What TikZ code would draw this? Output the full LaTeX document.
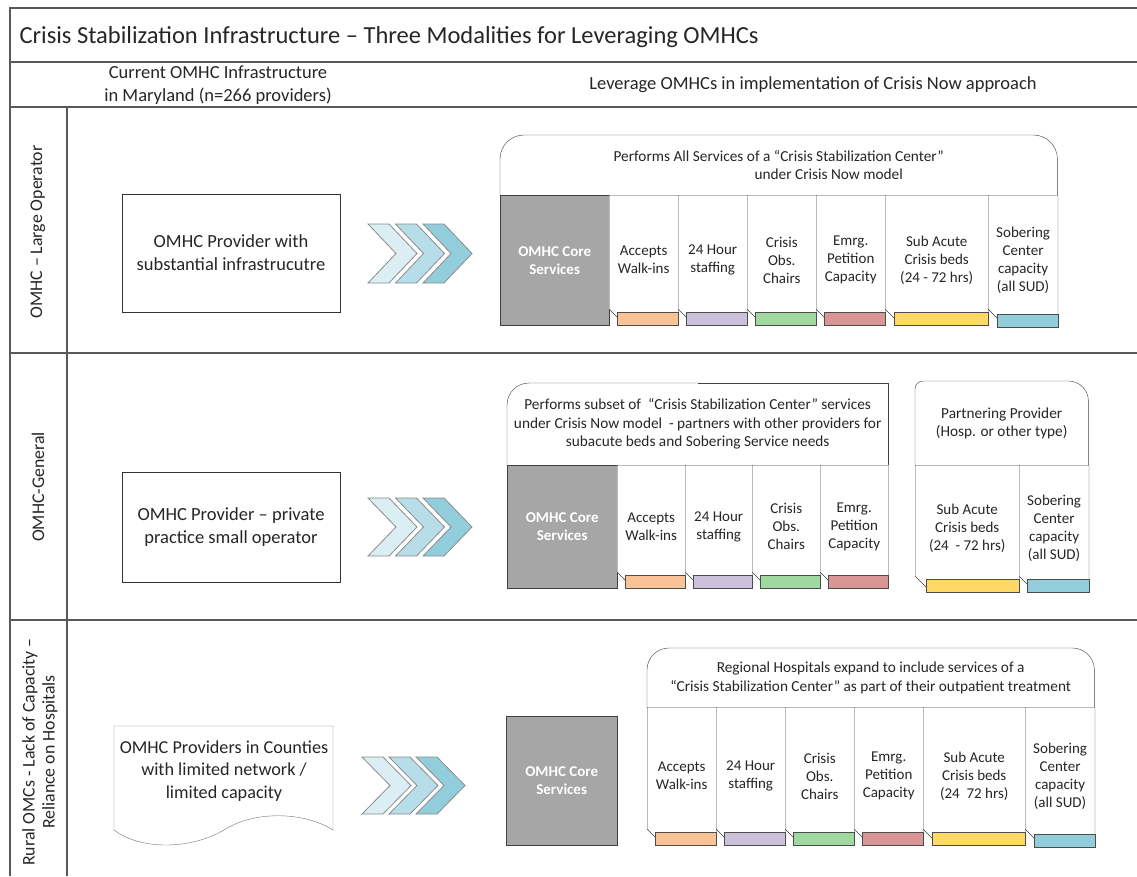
\documentclass[tikz,border=0pt]{standalone}
\usepackage{fontspec}
\setmainfont{Carlito}
\usetikzlibrary{shapes.misc}

\definecolor{rule}{HTML}{595959}
\definecolor{coregray}{HTML}{A6A6A6}
\definecolor{chevA}{HTML}{DAEEF3}
\definecolor{chevB}{HTML}{B7DEE8}
\definecolor{chevC}{HTML}{92CDDC}
\definecolor{tabO}{HTML}{FAC396}
\definecolor{tabP}{HTML}{CCC1DA}
\definecolor{tabG}{HTML}{A0D9A0}
\definecolor{tabR}{HTML}{D99694}
\definecolor{tabY}{HTML}{FFD966}
\definecolor{tabB}{HTML}{92CDDC}

\begin{document}
\begin{tikzpicture}[x=1pt, y=-1pt, every node/.style={text=black!85},
    cell/.style={draw=black!75, fill=white, chamfered rectangle, chamfered rectangle corners=south west, chamfered rectangle sep=8pt, inner sep=0pt, minimum width=69pt, anchor=north west, align=center, font=\fontsize{15}{18}\selectfont},
    core/.style={draw=black!75, fill=coregray, inner sep=0pt, anchor=north west, align=center, text=white, font=\fontsize{15}{18}\selectfont\bfseries},
    tab/.style={draw=black!70, inner sep=0pt, minimum height=13pt, minimum width=61pt, anchor=south east},
    hdr/.style={inner sep=0pt, anchor=north west, align=center, font=\fontsize{15.3}{18.5}\selectfont},
    box/.style={draw=black!75},
    prov/.style={draw=black!80, inner sep=0pt, align=center, font=\fontsize{18.5}{23}\selectfont},
    lane/.style={rotate=90, align=center, font=\fontsize{17.8}{20}\selectfont},
    rule/.style={draw=rule, line width=1.2pt},
    chev/.style={draw=black!45, line width=0.8pt},
    ]
  \useasboundingbox (0,0) rectangle (1137,876);
  \fill[white] (0,0) rectangle (1137,876);

  % frame
  \draw[rule] (10,876) -- (10,8) -- (1137,8);
  \draw[rule] (10,62) -- (1137,62);
  \draw[rule] (10,107) -- (1137,107);
  \draw[rule] (67,107) -- (67,876);
  \draw[rule] (10,353) -- (1137,353);
  \draw[rule] (10,620) -- (1137,620);

  \node[anchor=base west, font=\fontsize{24.5}{28}\selectfont] (title) at (16,43) {Crisis Stabilization Infrastructure – Three Modalities for Leveraging OMHCs};
  \node[align=center, font=\fontsize{18.5}{23}\selectfont] (current) at (218,85) {Current OMHC Infrastructure\\in Maryland (n=266 providers)};
  \node[font=\fontsize{18.5}{22}\selectfont] (leverage) at (813,85) {Leverage OMHCs in implementation of Crisis Now approach};

  \node[lane] (lane1) at (38,232) {OMHC – Large Operator};
  \node[lane] (lane2) at (38,487) {OMHC-General};
  \node[lane] (lane3) at (40,752) {Rural OMCs - Lack of Capacity –\\Reliance on Hospitals};

  % row 1: large operator
  \node[prov, minimum width=218pt, minimum height=118pt] (prov1) at (231,253) {OMHC Provider with\\substantial infrastrucutre};
  \draw[chev, fill=chevA] (368,224) -- ++(21,0) -- ++(28,29.5) -- ++(-28,29.5) -- ++(-21,0) -- ++(28,-29.5) -- cycle;
  \draw[chev, fill=chevB] (395.5,224) -- ++(21,0) -- ++(28,29.5) -- ++(-28,29.5) -- ++(-21,0) -- ++(28,-29.5) -- cycle;
  \draw[chev, fill=chevC] (423,224) -- ++(21,0) -- ++(28,29.5) -- ++(-28,29.5) -- ++(-21,0) -- ++(28,-29.5) -- cycle;

  \node[hdr, minimum width=557pt, minimum height=60pt] (all1) at (500,135) {Performs All Services of a “Crisis Stabilization Center”\\\hspace*{100pt}under Crisis Now model};
  \draw[box, rounded corners=24pt] (all1.south west) -- (all1.north west) -- (all1.north east) -- (all1.south east);
  \node[core, minimum width=109pt, minimum height=130pt] (core1) at (500,195) {OMHC Core\\Services};
  \node[cell, minimum height=130pt] (walk1) at (609,195) {Accepts\\Walk-ins};
  \node[cell, minimum height=130pt] (staff1) at (678,195) {24 Hour\\staffing};
  \node[cell, minimum height=130pt] (chair1) at (747,195) {Crisis\\Obs.\\Chairs};
  \node[cell, minimum height=130pt] (pet1) at (816,195) {Emrg.\\Petition\\Capacity};
  \node[cell, minimum width=103pt, minimum height=130pt] (beds1) at (885,195) {Sub Acute\\Crisis beds\\(24 - 72 hrs)};
  \node[cell, minimum height=130pt] (sober1) at (988,195) {Sobering\\Center\\capacity\\(all SUD)};
  \node[tab, fill=tabO] (walk1t) at (walk1.south east) {};
  \node[tab, fill=tabP] (staff1t) at (staff1.south east) {};
  \node[tab, fill=tabG] (chair1t) at (chair1.south east) {};
  \node[tab, fill=tabR] (pet1t) at (pet1.south east) {};
  \node[tab, fill=tabY, minimum width=94pt] (beds1t) at (beds1.south east) {};
  \node[tab, fill=tabB, yshift=-2pt] (sober1t) at (sober1.south east) {};

  % row 2: general
  \node[prov, minimum width=218pt, minimum height=110pt] (prov2) at (231,527) {OMHC Provider – private\\practice small operator};
  \draw[chev, fill=chevA] (368,498) -- ++(21,0) -- ++(28,29) -- ++(-28,29) -- ++(-21,0) -- ++(28,-29) -- cycle;
  \draw[chev, fill=chevB] (395.5,498) -- ++(21,0) -- ++(28,29) -- ++(-28,29) -- ++(-21,0) -- ++(28,-29) -- cycle;
  \draw[chev, fill=chevC] (423,498) -- ++(21,0) -- ++(28,29) -- ++(-28,29) -- ++(-21,0) -- ++(28,-29) -- cycle;

  \node[hdr, minimum width=381pt, minimum height=82pt] (sub2) at (507,383) {Performs subset of \ “Crisis Stabilization Center” services\\under Crisis Now model \ - partners with other providers for\\subacute beds and Sobering Service needs};
  \draw[box, rounded corners=22pt] (sub2.south west) -- (sub2.north west) -- (sub2.north);
  \draw[box] (sub2.north) -- (sub2.north east) -- (sub2.south east);
  \node[core, minimum width=110pt, minimum height=123pt] (core2) at (507,465) {OMHC Core\\Services};
  \node[cell, minimum width=68pt, minimum height=123pt] (walk2) at (617,465) {Accepts\\Walk-ins};
  \node[cell, minimum width=67pt, minimum height=123pt] (staff2) at (685,465) {24 Hour\\staffing};
  \node[cell, minimum width=68pt, minimum height=123pt] (chair2) at (752,465) {Crisis\\Obs.\\Chairs};
  \node[cell, minimum width=68pt, minimum height=123pt] (pet2) at (820,465) {Emrg.\\Petition\\Capacity};
  \node[tab, fill=tabO, minimum width=60pt] (walk2t) at (walk2.south east) {};
  \node[tab, fill=tabP, minimum width=59pt] (staff2t) at (staff2.south east) {};
  \node[tab, fill=tabG, minimum width=60pt] (chair2t) at (chair2.south east) {};
  \node[tab, fill=tabR, minimum width=60pt] (pet2t) at (pet2.south east) {};

  \node[hdr, minimum width=173pt, minimum height=84pt] (part2) at (915,381) {Partnering Provider\\(Hosp. or other type)};
  \draw[box, rounded corners=8pt] (part2.south west) -- (part2.north west) -- (part2.north);
  \draw[box, rounded corners=20pt] (part2.north) -- (part2.north east) -- (part2.south east);
  \node[cell, minimum width=104pt, minimum height=127pt] (beds2) at (915,465) {Sub Acute\\Crisis beds\\(24 \ - 72 hrs)};
  \node[cell, minimum height=127pt] (sober2) at (1019,465) {Sobering\\Center\\capacity\\(all SUD)};
  \node[tab, fill=tabY, minimum width=93pt] (beds2t) at (beds2.south east) {};
  \node[tab, fill=tabB, minimum width=62pt] (sober2t) at (sober2.south east) {};

  % row 3: rural
  \draw[draw=black!55] (114,830) -- (114,726) -- (333,726) -- (333,830) .. controls (305,812) and (255,810) .. (224,830) .. controls (190,850) and (140,850) .. (114,830);
  \node[align=center, font=\fontsize{18.2}{22.5}\selectfont] (prov3) at (224,771) {OMHC Providers in Counties\\with limited network /\\limited capacity};
  \draw[chev, fill=chevA] (362,757) -- ++(21,0) -- ++(28,28.5) -- ++(-28,28.5) -- ++(-21,0) -- ++(28,-28.5) -- cycle;
  \draw[chev, fill=chevB] (389,757) -- ++(21,0) -- ++(28,28.5) -- ++(-28,28.5) -- ++(-21,0) -- ++(28,-28.5) -- cycle;
  \draw[chev, fill=chevC] (416,757) -- ++(21,0) -- ++(28,28.5) -- ++(-28,28.5) -- ++(-21,0) -- ++(28,-28.5) -- cycle;

  \node[core, minimum width=111pt, minimum height=129pt] (core3) at (506,716) {OMHC Core\\Services};
  \node[hdr, minimum width=447pt, minimum height=59pt] (reg3) at (647,648) {Regional Hospitals expand to include services of a\\“Crisis Stabilization Center” as part of their outpatient treatment};
  \draw[box, rounded corners=22pt] (reg3.south west) -- (reg3.north west) -- (reg3.north east) -- (reg3.south east);
  \node[cell, minimum height=138pt] (walk3) at (647,707) {Accepts\\Walk-ins};
  \node[cell, minimum height=138pt] (staff3) at (716,707) {24 Hour\\staffing};
  \node[cell, minimum height=138pt] (chair3) at (785,707) {Crisis\\Obs.\\Chairs};
  \node[cell, minimum height=138pt] (pet3) at (854,707) {Emrg.\\Petition\\Capacity};
  \node[cell, minimum width=102pt, minimum height=138pt] (beds3) at (923,707) {Sub Acute\\Crisis beds\\(24 \ 72 hrs)};
  \node[cell, minimum height=138pt] (sober3) at (1025,707) {Sobering\\Center\\capacity\\(all SUD)};
  \node[tab, fill=tabO] (walk3t) at (walk3.south east) {};
  \node[tab, fill=tabP] (staff3t) at (staff3.south east) {};
  \node[tab, fill=tabG] (chair3t) at (chair3.south east) {};
  \node[tab, fill=tabR] (pet3t) at (pet3.south east) {};
  \node[tab, fill=tabY, minimum width=93pt] (beds3t) at (beds3.south east) {};
  \node[tab, fill=tabB, yshift=-2pt] (sober3t) at (sober3.south east) {};
\end{tikzpicture}
\end{document}
